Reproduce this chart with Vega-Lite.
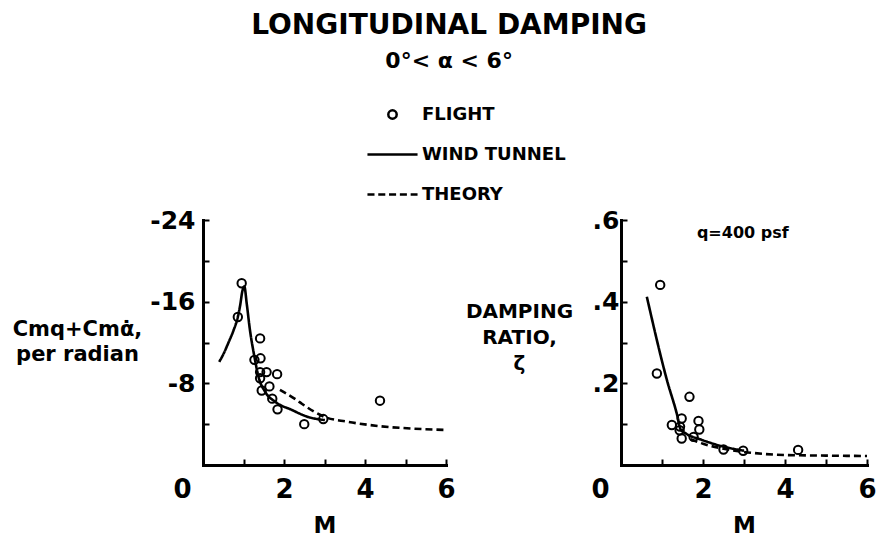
{
  "$schema": "https://vega.github.io/schema/vega-lite/v6.json",
  "background": "white",
  "padding": {"left": 12, "top": 12, "right": 0, "bottom": 0},
  "config": {
    "font": "DejaVu Sans",
    "view": {"stroke": null},
    "axis": {
      "domainColor": "black", "domainWidth": 3, "domainCap": "square",
      "tickColor": "black", "tickWidth": 2, "tickSize": -6,
      "labelFont": "DejaVu Sans", "labelFontWeight": "bold", "labelColor": "black",
      "titleFont": "DejaVu Sans", "titleFontWeight": "bold", "titleColor": "black",
      "grid": false, "labelFlush": false, "labelOverlap": false
    }
  },
  "title": {
    "text": "LONGITUDINAL DAMPING",
    "subtitle": "0°< α < 6°",
    "font": "DejaVu Sans", "fontSize": 28, "fontWeight": "bold", "color": "black",
    "subtitleFont": "DejaVu Sans", "subtitleFontSize": 22, "subtitleFontWeight": "bold", "subtitleColor": "black",
    "anchor": "middle", "subtitlePadding": 11, "offset": 26, "dx": 5
  },
  "datasets": {
    "left": [
      {"series": "FLIGHT", "M": 0.86, "v": -14.5},
      {"series": "FLIGHT", "M": 0.955, "v": -17.8},
      {"series": "FLIGHT", "M": 1.27, "v": -10.3},
      {"series": "FLIGHT", "M": 1.41, "v": -12.4},
      {"series": "FLIGHT", "M": 1.42, "v": -10.45},
      {"series": "FLIGHT", "M": 1.41, "v": -9.1},
      {"series": "FLIGHT", "M": 1.57, "v": -9.1},
      {"series": "FLIGHT", "M": 1.41, "v": -8.5},
      {"series": "FLIGHT", "M": 1.83, "v": -8.9},
      {"series": "FLIGHT", "M": 1.45, "v": -7.3},
      {"series": "FLIGHT", "M": 1.64, "v": -7.7},
      {"series": "FLIGHT", "M": 1.71, "v": -6.5},
      {"series": "FLIGHT", "M": 1.84, "v": -5.45},
      {"series": "FLIGHT", "M": 2.5, "v": -4.0},
      {"series": "FLIGHT", "M": 2.97, "v": -4.5},
      {"series": "FLIGHT", "M": 4.37, "v": -6.3},
      {"series": "WIND TUNNEL", "M": 0.4, "v": -10.1},
      {"series": "WIND TUNNEL", "M": 0.52, "v": -11.0},
      {"series": "WIND TUNNEL", "M": 0.63, "v": -12.0},
      {"series": "WIND TUNNEL", "M": 0.75, "v": -13.15},
      {"series": "WIND TUNNEL", "M": 0.86, "v": -14.5},
      {"series": "WIND TUNNEL", "M": 0.92, "v": -15.7},
      {"series": "WIND TUNNEL", "M": 0.97, "v": -17.0},
      {"series": "WIND TUNNEL", "M": 1.02, "v": -17.5},
      {"series": "WIND TUNNEL", "M": 1.08, "v": -15.8},
      {"series": "WIND TUNNEL", "M": 1.16, "v": -13.2},
      {"series": "WIND TUNNEL", "M": 1.27, "v": -10.6},
      {"series": "WIND TUNNEL", "M": 1.37, "v": -8.65},
      {"series": "WIND TUNNEL", "M": 1.53, "v": -7.2},
      {"series": "WIND TUNNEL", "M": 1.78, "v": -6.2},
      {"series": "WIND TUNNEL", "M": 2.19, "v": -5.4},
      {"series": "WIND TUNNEL", "M": 2.6, "v": -4.7},
      {"series": "WIND TUNNEL", "M": 3.01, "v": -4.4},
      {"series": "THEORY", "M": 1.9, "v": -7.35},
      {"series": "THEORY", "M": 2.31, "v": -6.37},
      {"series": "THEORY", "M": 2.44, "v": -6.0},
      {"series": "THEORY", "M": 3.01, "v": -4.7},
      {"series": "THEORY", "M": 3.55, "v": -4.25},
      {"series": "THEORY", "M": 4.37, "v": -3.8},
      {"series": "THEORY", "M": 5.2, "v": -3.56},
      {"series": "THEORY", "M": 6.0, "v": -3.43}
    ],
    "right": [
      {"series": "FLIGHT", "M": 0.875, "z": 0.224},
      {"series": "FLIGHT", "M": 0.956, "z": 0.441},
      {"series": "FLIGHT", "M": 1.24, "z": 0.098},
      {"series": "FLIGHT", "M": 1.43, "z": 0.085},
      {"series": "FLIGHT", "M": 1.44, "z": 0.094},
      {"series": "FLIGHT", "M": 1.48, "z": 0.114},
      {"series": "FLIGHT", "M": 1.48, "z": 0.065},
      {"series": "FLIGHT", "M": 1.67, "z": 0.167},
      {"series": "FLIGHT", "M": 1.77, "z": 0.069},
      {"series": "FLIGHT", "M": 1.89, "z": 0.108},
      {"series": "FLIGHT", "M": 1.91, "z": 0.087},
      {"series": "FLIGHT", "M": 2.5, "z": 0.038},
      {"series": "FLIGHT", "M": 2.98, "z": 0.035},
      {"series": "FLIGHT", "M": 4.32, "z": 0.037},
      {"series": "WIND TUNNEL", "M": 0.63, "z": 0.412},
      {"series": "WIND TUNNEL", "M": 1.12, "z": 0.208},
      {"series": "WIND TUNNEL", "M": 1.38, "z": 0.118},
      {"series": "WIND TUNNEL", "M": 1.45, "z": 0.088},
      {"series": "WIND TUNNEL", "M": 1.6, "z": 0.076},
      {"series": "WIND TUNNEL", "M": 1.93, "z": 0.063},
      {"series": "WIND TUNNEL", "M": 2.5, "z": 0.045},
      {"series": "WIND TUNNEL", "M": 3.0, "z": 0.035},
      {"series": "THEORY", "M": 1.7, "z": 0.063},
      {"series": "THEORY", "M": 2.0, "z": 0.052},
      {"series": "THEORY", "M": 2.5, "z": 0.04},
      {"series": "THEORY", "M": 3.0, "z": 0.032},
      {"series": "THEORY", "M": 3.5, "z": 0.027},
      {"series": "THEORY", "M": 4.0, "z": 0.0245},
      {"series": "THEORY", "M": 5.0, "z": 0.023},
      {"series": "THEORY", "M": 6.0, "z": 0.022}
    ]
  },
  "bounds": "flush",
  "spacing": 175,
  "resolve": {"scale": {"shape": "independent", "strokeDash": "independent"}, "legend": {"shape": "independent"}},
  "hconcat": [
    {
      "width": 243, "height": 245,
      "data": {"name": "left"},
      "encoding": {
        "x": {"field": "M", "type": "quantitative",
          "scale": {"domain": [0, 6], "nice": false, "zero": false},
          "axis": {"values": [0, 1, 2, 3, 4, 5, 6],
            "labelExpr": "datum.value % 2 == 0 ? datum.label : ''",
            "labelFontSize": 26, "labelPadding": 17,
            "labelOffset": {"condition": {"test": "datum.value == 0", "value": -21}, "value": 0},
            "title": "M", "titleFontSize": 23, "titlePadding": 12}},
        "y": {"field": "v", "type": "quantitative",
          "scale": {"domain": [-24, 0], "reverse": true, "nice": false, "zero": false},
          "axis": {"values": [-24, -20, -16, -12, -8, -4],
            "labelExpr": "datum.value % 8 == 0 ? '-' + abs(datum.value) : ''",
            "labelFontSize": 25, "labelPadding": 14,
            "title": ["Cmq+Cmα̇,", "per radian"],
            "titleFontSize": 21, "titleLineHeight": 25, "titleAngle": 0,
            "titleAlign": "center", "titleBaseline": "alphabetic",
            "titleX": -126, "titleY": 115}}
      },
      "layer": [
        {
          "transform": [{"filter": "datum.series !== 'FLIGHT'"}],
          "mark": {"type": "line", "color": "black", "strokeWidth": 2.6, "interpolate": "monotone"},
          "encoding": {
            "strokeDash": {"field": "series", "type": "nominal",
              "scale": {"domain": ["WIND TUNNEL", "THEORY"], "range": [[1, 0], [7, 4]]}, "legend": null}
          }
        },
        {
          "transform": [{"filter": "datum.series === 'FLIGHT'"}],
          "mark": {"type": "point", "filled": false, "color": "black", "strokeWidth": 2, "size": 900, "opacity": 1},
          "encoding": {
            "shape": {"field": "series", "type": "nominal",
              "scale": {"domain": ["FLIGHT", "WIND TUNNEL", "THEORY"],
                "range": [
                  "M -0.28 0 A 0.28 0.28 0 1 0 0.28 0 A 0.28 0.28 0 1 0 -0.28 0 Z",
                  "M -1.67 0 H 1.67",
                  "M -1.67 0 H -1.2 M -0.95 0 H -0.48 M -0.23 0 H 0.24 M 0.49 0 H 0.96 M 1.21 0 H 1.67"]},
              "legend": {
                "orient": "none", "legendX": 173, "legendY": -122, "title": null,
                "symbolSize": 900, "symbolStrokeWidth": 2.5, "symbolStrokeColor": "black",
                "symbolOpacity": 1,
                "labelFont": "DejaVu Sans", "labelFontWeight": "bold", "labelFontSize": 18, "labelColor": "black",
                "labelOffset": 13, "rowPadding": 14, "padding": 0
              }}
          }
        }
      ]
    },
    {
      "width": 246, "height": 245,
      "layer": [
        {
          "data": {"name": "right"},
          "transform": [{"filter": "datum.series !== 'FLIGHT'"}],
          "mark": {"type": "line", "color": "black", "strokeWidth": 2.6, "interpolate": "monotone"},
          "encoding": {
            "x": {"field": "M", "type": "quantitative",
              "scale": {"domain": [0, 6], "nice": false, "zero": false},
              "axis": {"values": [0, 1, 2, 3, 4, 5, 6],
                "labelExpr": "datum.value % 2 == 0 ? datum.label : ''",
                "labelFontSize": 26, "labelPadding": 17,
                "labelOffset": {"condition": {"test": "datum.value == 0", "value": -21}, "value": 0},
                "title": "M", "titleFontSize": 23, "titlePadding": 12}},
            "y": {"field": "z", "type": "quantitative",
              "scale": {"domain": [0, 0.6], "nice": false, "zero": false},
              "axis": {"values": [0.1, 0.2, 0.3, 0.4, 0.5, 0.6],
                "labelExpr": "round(datum.value * 10) % 2 == 0 ? replace(format(datum.value, '.1f'), '0.', '.') : ''",
                "labelFontSize": 25, "labelPadding": 8,
                "title": ["DAMPING", "RATIO,", "ζ"],
                "titleFontSize": 20, "titleLineHeight": 26, "titleAngle": 0,
                "titleAlign": "center", "titleBaseline": "alphabetic",
                "titleX": -102, "titleY": 97}},
            "strokeDash": {"field": "series", "type": "nominal",
              "scale": {"domain": ["WIND TUNNEL", "THEORY"], "range": [[1, 0], [7, 4]]}, "legend": null}
          }
        },
        {
          "data": {"name": "right"},
          "transform": [{"filter": "datum.series === 'FLIGHT'"}],
          "mark": {"type": "point", "filled": false, "color": "black", "strokeWidth": 2, "size": 900, "opacity": 1},
          "encoding": {
            "x": {"field": "M", "type": "quantitative"},
            "y": {"field": "z", "type": "quantitative"},
            "shape": {"field": "series", "type": "nominal",
              "scale": {"domain": ["FLIGHT", "WIND TUNNEL", "THEORY"],
                "range": [
                  "M -0.28 0 A 0.28 0.28 0 1 0 0.28 0 A 0.28 0.28 0 1 0 -0.28 0 Z",
                  "M -1.67 0 H 1.67",
                  "M -1.67 0 H 1.67"]},
              "legend": null}
          }
        },
        {
          "data": {"values": [{"note": "q=400 psf"}]},
          "mark": {"type": "text", "font": "DejaVu Sans", "fontWeight": "bold", "fontSize": 16, "color": "black"},
          "encoding": {
            "x": {"datum": 2.97, "type": "quantitative"},
            "y": {"datum": 0.568, "type": "quantitative"},
            "text": {"field": "note", "type": "nominal"}
          }
        }
      ]
    }
  ]
}
